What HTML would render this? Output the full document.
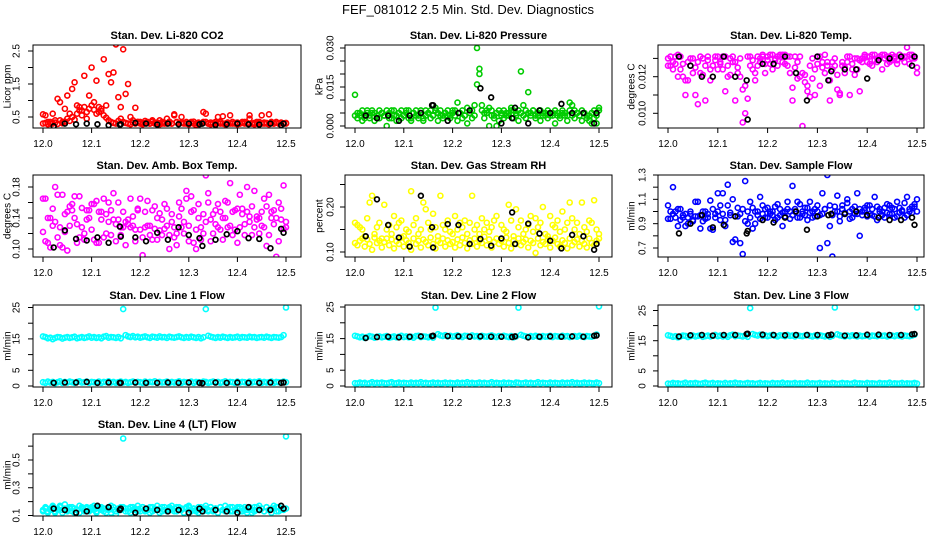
<!DOCTYPE html>
<html><head><meta charset="utf-8"><style>
html,body{margin:0;padding:0;background:#fff;}
svg{display:block;font-family:"Liberation Sans",Arial,sans-serif;}
</style></head><body>
<svg id="chart" width="936" height="540" viewBox="0 0 936 540">
<text x="468" y="14" text-anchor="middle" font-size="13">FEF_081012  2.5 Min. Std. Dev. Diagnostics</text>
</svg>
<script>
const times=[12.000,12.005,12.010,12.015,12.020,12.025,12.030,12.035,12.040,12.045,12.050,12.055,12.060,12.065,12.070,12.075,12.080,12.085,12.090,12.095,12.100,12.105,12.110,12.115,12.120,12.125,12.130,12.135,12.140,12.145,12.150,12.155,12.160,12.165,12.170,12.175,12.180,12.185,12.190,12.195,12.200,12.205,12.210,12.215,12.220,12.225,12.230,12.235,12.240,12.245,12.250,12.255,12.260,12.265,12.270,12.275,12.280,12.285,12.290,12.295,12.300,12.305,12.310,12.315,12.320,12.325,12.330,12.335,12.340,12.345,12.350,12.355,12.360,12.365,12.370,12.375,12.380,12.385,12.390,12.395,12.400,12.405,12.410,12.415,12.420,12.425,12.430,12.435,12.440,12.445,12.450,12.455,12.460,12.465,12.470,12.475,12.480,12.485,12.490,12.495,12.500];
const blackTimes=[12.022,12.045,12.068,12.090,12.112,12.135,12.158,12.160,12.190,12.212,12.235,12.257,12.279,12.300,12.322,12.328,12.355,12.378,12.400,12.423,12.445,12.468,12.490,12.495];
const xTicks=[12.0,12.1,12.2,12.3,12.4,12.5];
const xTickLabels=["12.0","12.1","12.2","12.3","12.4","12.5"];

const co2A=[0.30,0.32,0.28,0.35,0.30,0.33,0.29,0.40,0.31,0.36,0.45,0.38,0.50,0.42,0.60,0.70,0.55,0.80,0.65,0.75,0.85,0.72,0.60,0.80,0.68,0.55,0.48,0.40,0.35,0.32,0.30,0.38,0.45,0.35,0.32,0.30,0.28,0.33,0.30,0.35,0.30,0.28,0.32,0.35,0.30,0.40,0.33,0.30,0.28,0.35,0.30,0.45,0.32,0.30,0.55,0.35,0.30,0.50,0.32,0.30,0.28,0.35,0.30,0.25,0.33,0.30,0.65,0.35,0.30,0.28,0.32,0.30,0.50,0.35,0.30,0.28,0.33,0.55,0.30,0.32,0.28,0.30,0.35,0.30,0.32,0.45,0.30,0.28,0.35,0.30,0.55,0.30,0.32,0.28,0.35,0.30,0.33,0.30,0.32,0.30,0.30];
const co2B=[0.58,0.55,0.35,0.30,0.60,0.40,1.05,0.95,0.35,0.75,1.15,0.60,1.35,1.55,0.85,0.80,0.70,1.75,0.45,1.15,2.00,0.95,1.60,0.65,0.75,2.25,0.85,1.80,1.55,1.85,2.70,1.10,0.80,2.55,1.20,1.50,0.50,0.40,0.78,0.35,0.35,0.30,0.38,0.32,0.30,0.36,0.30,0.33,0.40,0.30,0.32,0.30,0.36,0.30,0.58,0.34,0.30,0.32,0.30,0.35,0.30,0.33,0.36,0.30,0.32,0.30,0.35,0.60,0.30,0.33,0.30,0.35,0.32,0.30,0.52,0.30,0.33,0.30,0.35,0.30,0.33,0.30,0.32,0.35,0.30,0.55,0.30,0.32,0.30,0.35,0.30,0.33,0.30,0.58,0.32,0.30,0.35,0.30,0.33,0.30,0.32];
const co2K=[0.22,0.30,0.28,0.30,0.28,0.25,0.27,0.28,0.32,0.30,0.27,0.30,0.28,0.30,0.28,0.30,0.26,0.28,0.30,0.28,0.27,0.30,0.25,0.30];
const co2Ticks=[0.5,1.0,1.5,2.0,2.5];
const co2TickLabels=["0.5","","1.5","","2.5"];

const presA=[0.004,0.003,0.005,0.002,0.004,0.006,0.003,0.005,0.002,0.004,0.003,0.005,0.004,0.000,0.003,0.006,0.004,0.002,0.005,0.003,0.004,0.006,0.003,0.002,0.005,0.004,0.003,0.006,0.002,0.004,0.005,0.003,0.004,0.006,0.002,0.004,0.003,0.005,0.004,0.003,0.006,0.004,0.002,0.005,0.003,0.004,0.001,0.005,0.003,0.004,0.016,0.020,0.006,0.003,0.005,0.000,0.004,0.003,0.005,0.002,0.004,0.003,0.005,0.004,0.006,0.003,0.004,0.002,0.005,0.004,0.003,0.005,0.004,0.006,0.003,0.004,0.002,0.005,0.004,0.003,0.005,0.004,0.001,0.004,0.003,0.005,0.004,0.002,0.006,0.004,0.003,0.005,0.004,0.002,0.005,0.003,0.004,0.001,0.003,0.001,0.006];
const presB=[0.012,0.005,0.004,0.006,0.003,0.005,0.004,0.006,0.005,0.003,0.006,0.005,0.004,0.006,0.005,0.003,0.006,0.004,0.005,0.006,0.004,0.005,0.006,0.003,0.005,0.006,0.004,0.005,0.003,0.006,0.005,0.006,0.004,0.007,0.005,0.006,0.004,0.005,0.006,0.004,0.005,0.006,0.009,0.005,0.006,0.004,0.007,0.005,0.006,0.008,0.030,0.022,0.008,0.005,0.006,0.007,0.006,0.004,0.000,0.006,0.005,0.006,0.004,0.005,0.007,0.006,0.005,0.006,0.021,0.008,0.006,0.013,0.005,0.006,0.004,0.005,0.006,0.004,0.005,0.006,0.004,0.005,0.006,0.005,0.004,0.006,0.005,0.004,0.009,0.008,0.006,0.005,0.004,0.006,0.005,0.004,0.002,0.005,0.006,0.004,0.007];
const presK=[0.004,0.003,0.004,0.002,0.004,0.005,0.008,0.008,0.002,0.005,0.006,0.0145,0.011,0.001,0.003,0.007,0.001,0.006,0.005,0.0085,0.005,0.005,0.001,0.005];
const presTicks=[0.000,0.005,0.010,0.015,0.020,0.025,0.030];
const presTickLabels=["0.000","","","0.015","","","0.030"];

const tempA=[0.0130,0.0126,0.0128,0.0131,0.0132,0.0124,0.0120,0.0118,0.0128,0.0130,0.0122,0.0110,0.0128,0.0131,0.0121,0.0107,0.0129,0.0118,0.0126,0.0131,0.0124,0.0128,0.0131,0.0112,0.0126,0.0121,0.0131,0.0128,0.0122,0.0130,0.0113,0.0100,0.0108,0.0131,0.0124,0.0118,0.0126,0.0128,0.0131,0.0122,0.0129,0.0132,0.0124,0.0130,0.0131,0.0132,0.0128,0.0132,0.0131,0.0122,0.0114,0.0131,0.0128,0.0120,0.0122,0.0117,0.0112,0.0109,0.0119,0.0110,0.0131,0.0115,0.0128,0.0132,0.0126,0.0118,0.0128,0.0130,0.0113,0.0111,0.0126,0.0122,0.0128,0.0131,0.0124,0.0121,0.0130,0.0112,0.0128,0.0131,0.0128,0.0131,0.0126,0.0132,0.0130,0.0131,0.0124,0.0132,0.0131,0.0128,0.0132,0.0131,0.0129,0.0132,0.0130,0.0131,0.0136,0.0132,0.0130,0.0131,0.0122];
const tempB=[0.0126,0.0131,0.0124,0.0127,0.0120,0.0131,0.0127,0.0110,0.0118,0.0126,0.0130,0.0125,0.0105,0.0122,0.0130,0.0126,0.0131,0.0124,0.0126,0.0129,0.0131,0.0127,0.0124,0.0131,0.0120,0.0130,0.0128,0.0107,0.0125,0.0120,0.0095,0.0115,0.0131,0.0126,0.0129,0.0122,0.0131,0.0130,0.0132,0.0127,0.0131,0.0127,0.0132,0.0129,0.0126,0.0131,0.0132,0.0127,0.0126,0.0131,0.0107,0.0125,0.0119,0.0131,0.0093,0.0121,0.0115,0.0126,0.0130,0.0124,0.0127,0.0131,0.0125,0.0122,0.0128,0.0107,0.0124,0.0126,0.0121,0.0110,0.0128,0.0125,0.0131,0.0110,0.0127,0.0130,0.0124,0.0129,0.0130,0.0132,0.0131,0.0127,0.0132,0.0129,0.0128,0.0131,0.0132,0.0130,0.0127,0.0131,0.0129,0.0130,0.0127,0.0132,0.0131,0.0128,0.0131,0.0127,0.0132,0.0130,0.0125];
const tempK=[0.0131,0.0126,0.0120,0.0120,0.0131,0.0120,0.0118,0.00966,0.0127,0.0127,0.0131,0.0122,0.0107,0.0131,0.0118,0.0123,0.0124,0.0124,0.0119,0.0129,0.0130,0.0131,0.0126,0.0131];
const tempTicks=[0.010,0.011,0.012,0.013];
const tempTickLabels=["0.010","","0.012",""];

const ambA=[0.122,0.165,0.108,0.140,0.130,0.180,0.115,0.105,0.170,0.145,0.098,0.155,0.150,0.168,0.132,0.115,0.153,0.120,0.138,0.150,0.158,0.112,0.162,0.108,0.148,0.165,0.120,0.135,0.150,0.172,0.132,0.160,0.118,0.128,0.105,0.138,0.165,0.130,0.110,0.150,0.125,0.092,0.148,0.162,0.130,0.112,0.155,0.140,0.124,0.118,0.158,0.130,0.100,0.145,0.115,0.120,0.160,0.128,0.135,0.175,0.110,0.168,0.150,0.100,0.140,0.128,0.120,0.195,0.172,0.110,0.145,0.132,0.158,0.125,0.140,0.162,0.128,0.185,0.118,0.150,0.108,0.170,0.152,0.132,0.180,0.142,0.118,0.175,0.138,0.140,0.130,0.165,0.104,0.170,0.140,0.150,0.090,0.160,0.138,0.182,0.128];
const ambB=[0.165,0.110,0.140,0.102,0.152,0.135,0.170,0.128,0.102,0.122,0.148,0.130,0.158,0.140,0.108,0.168,0.128,0.112,0.150,0.140,0.125,0.158,0.108,0.148,0.138,0.115,0.145,0.160,0.118,0.138,0.110,0.138,0.128,0.148,0.135,0.132,0.128,0.142,0.125,0.152,0.165,0.115,0.128,0.130,0.118,0.150,0.126,0.112,0.146,0.138,0.126,0.152,0.118,0.135,0.128,0.105,0.142,0.152,0.120,0.165,0.130,0.148,0.108,0.125,0.158,0.112,0.145,0.135,0.160,0.138,0.120,0.150,0.128,0.148,0.112,0.140,0.160,0.130,0.148,0.125,0.152,0.128,0.145,0.118,0.148,0.135,0.155,0.128,0.142,0.120,0.148,0.128,0.155,0.118,0.148,0.132,0.140,0.110,0.152,0.126,0.135];
const ambK=[0.102,0.124,0.113,0.111,0.115,0.108,0.129,0.116,0.115,0.110,0.121,0.112,0.128,0.118,0.114,0.104,0.112,0.119,0.123,0.114,0.113,0.101,0.126,0.121];
const ambTicks=[0.10,0.12,0.14,0.16,0.18];
const ambTickLabels=["0.10","","0.14","","0.18"];

const rhA=[0.120,0.115,0.125,0.130,0.112,0.128,0.118,0.105,0.132,0.120,0.125,0.110,0.122,0.130,0.115,0.128,0.108,0.124,0.118,0.132,0.112,0.126,0.120,0.105,0.130,0.118,0.125,0.110,0.128,0.122,0.115,0.132,0.118,0.108,0.125,0.120,0.130,0.112,0.126,0.118,0.122,0.110,0.128,0.115,0.132,0.120,0.108,0.126,0.118,0.130,0.112,0.125,0.120,0.134,0.115,0.128,0.110,0.122,0.130,0.118,0.125,0.112,0.132,0.120,0.108,0.126,0.118,0.130,0.115,0.122,0.128,0.110,0.125,0.120,0.098,0.130,0.115,0.122,0.118,0.128,0.110,0.125,0.132,0.118,0.112,0.126,0.120,0.108,0.130,0.115,0.122,0.128,0.112,0.125,0.118,0.110,0.130,0.120,0.115,0.125,0.130];
const rhB=[0.165,0.160,0.155,0.150,0.135,0.175,0.210,0.225,0.140,0.155,0.165,0.130,0.205,0.150,0.160,0.140,0.180,0.155,0.165,0.170,0.135,0.150,0.145,0.235,0.160,0.175,0.140,0.150,0.210,0.195,0.165,0.150,0.185,0.155,0.135,0.225,0.160,0.150,0.170,0.145,0.140,0.180,0.150,0.165,0.155,0.170,0.140,0.165,0.225,0.150,0.160,0.140,0.175,0.150,0.165,0.145,0.155,0.170,0.180,0.285,0.160,0.150,0.145,0.205,0.170,0.135,0.195,0.155,0.170,0.140,0.150,0.160,0.180,0.145,0.175,0.155,0.165,0.200,0.140,0.135,0.180,0.160,0.155,0.170,0.145,0.190,0.150,0.165,0.210,0.175,0.150,0.165,0.140,0.210,0.155,0.145,0.170,0.165,0.215,0.150,0.140];
const rhK=[0.135,0.217,0.160,0.132,0.112,0.225,0.155,0.110,0.162,0.160,0.118,0.129,0.114,0.130,0.188,0.118,0.163,0.141,0.125,0.108,0.138,0.135,0.105,0.118];
const rhTicks=[0.10,0.15,0.20,0.25];
const rhTickLabels=["0.10","","0.20",""];

const sfA=[1.05,0.94,1.20,1.00,0.88,1.02,0.95,0.98,0.90,1.00,0.93,0.96,1.08,0.97,0.92,1.00,0.95,1.09,0.85,0.98,1.00,0.93,1.15,0.88,1.05,0.97,1.10,0.77,0.96,0.74,1.02,1.25,0.90,1.08,0.86,1.00,0.97,1.12,1.05,0.95,1.03,0.98,1.00,0.93,1.06,0.97,0.88,1.00,1.02,0.94,1.21,1.00,0.95,1.06,0.98,1.03,0.93,1.08,1.00,0.96,1.05,0.70,0.98,1.02,1.30,0.88,0.97,1.04,1.00,0.92,1.05,0.99,1.10,0.94,1.02,0.98,1.15,0.80,1.00,1.03,0.96,1.05,0.97,1.12,0.93,1.02,1.00,0.95,1.06,0.98,1.03,0.95,1.08,0.99,1.01,0.95,1.12,1.00,1.04,1.06,1.10];
const sfB=[0.94,1.00,0.98,0.95,1.02,0.93,0.97,0.88,0.95,0.98,0.92,1.08,0.96,0.86,1.00,0.94,0.98,0.86,1.02,0.95,1.15,1.05,0.98,0.93,1.22,0.99,0.75,0.96,1.03,0.98,0.65,0.92,1.00,0.95,1.03,0.90,1.00,0.94,0.98,1.02,0.95,1.00,0.97,1.04,0.95,1.02,0.99,0.96,1.08,1.00,0.97,1.02,1.08,0.95,1.00,0.97,1.03,0.99,0.95,1.02,1.00,0.97,1.15,1.02,0.74,1.05,0.63,1.00,1.13,0.96,1.02,0.98,1.07,1.00,0.95,1.04,0.98,1.02,0.97,1.01,1.05,0.98,1.02,0.96,1.04,1.00,0.97,1.03,0.99,1.05,0.98,1.02,0.96,1.03,1.00,1.07,0.97,1.02,0.99,1.04,1.00];
const sfK=[0.82,0.90,0.97,0.87,0.89,0.96,0.82,0.84,0.93,0.91,0.95,1.00,0.85,0.96,0.97,0.98,0.98,1.00,0.97,0.95,0.93,0.93,0.95,0.89];
const sfTicks=[0.7,0.8,0.9,1.0,1.1,1.2,1.3];
const sfTickLabels=["0.7","","0.9","","1.1","","1.3"];

const l1A=[15.8,15.6,15.2,15.4,14.9,15.3,15.6,15.5,15.1,15.4,15.6,15.3,15.5,15.7,15.2,15.4,15.6,15.3,15.5,15.8,15.4,15.6,15.3,15.5,15.2,15.7,15.9,15.4,15.6,15.5,15.3,15.6,15.2,24.5,16.2,15.8,15.6,15.9,15.5,15.7,15.4,15.6,15.8,15.5,15.3,15.7,15.6,15.4,15.8,15.5,15.6,15.3,15.7,15.5,15.4,15.6,15.8,15.5,15.3,15.6,15.4,15.7,15.5,15.3,15.6,15.2,15.5,24.5,16.0,15.7,15.5,15.3,15.6,15.4,15.7,15.5,15.3,15.6,15.4,15.5,15.7,15.3,15.6,15.5,15.4,15.7,15.5,15.6,15.3,15.5,15.6,15.4,15.7,15.5,15.3,15.6,15.5,15.4,15.6,16.2,25.0];
const l1B=[1.2,1.0,1.4,1.1,1.3,0.9,1.2,1.5,1.0,1.3,1.1,1.4,1.2,1.0,1.3,1.5,1.1,1.2,1.4,1.0,1.3,1.2,1.1,1.4,1.0,1.3,1.2,1.5,1.1,1.3,1.0,1.2,1.4,1.1,1.3,1.0,1.2,1.4,1.1,1.3,1.2,1.0,1.4,1.1,1.3,1.2,1.5,1.0,1.3,1.1,1.2,1.4,1.0,1.3,1.1,1.2,1.5,1.0,1.3,1.2,1.1,1.4,1.0,1.3,1.2,1.1,1.4,1.3,1.0,1.2,1.4,1.1,1.3,1.0,1.2,1.5,1.1,1.3,1.2,1.0,1.4,1.1,1.3,1.2,1.0,1.4,1.1,1.3,1.2,1.5,1.0,1.3,1.1,1.2,1.4,1.0,1.3,1.2,1.1,1.4,1.2];
const l1K=[1.0,1.1,1.1,1.3,1.0,1.1,1.0,1.0,1.1,1.0,1.0,1.1,1.0,1.1,1.0,0.9,1.1,1.0,1.1,1.0,1.0,1.1,1.0,1.1];

const l2A=[15.9,15.7,15.4,15.6,15.2,15.5,15.8,15.6,15.3,15.6,15.7,15.4,15.6,15.8,15.3,15.5,15.7,15.4,15.6,15.9,15.5,15.7,15.4,15.6,15.3,15.8,15.9,15.5,15.7,15.6,15.4,15.7,15.3,24.8,16.4,16.0,15.8,16.1,15.7,15.9,15.6,15.8,16.0,15.7,15.5,15.9,15.8,15.6,16.0,15.7,15.8,15.5,15.9,15.7,15.6,15.8,16.0,15.7,15.5,15.8,15.6,15.9,15.7,15.5,15.8,15.4,15.7,24.8,16.2,15.9,15.7,15.5,15.8,15.6,15.9,15.7,15.5,15.8,15.6,15.7,15.9,15.5,15.8,15.7,15.6,15.9,15.7,15.8,15.5,15.7,15.8,15.6,15.9,15.7,15.5,15.8,15.7,15.6,15.8,16.3,25.2];
const l2B=[0.9,0.8,1.1,0.8,1.0,0.7,0.9,1.2,0.8,1.0,0.9,1.1,0.9,0.8,1.0,1.2,0.8,0.9,1.1,0.8,1.0,0.9,0.8,1.1,0.8,1.0,0.9,1.2,0.8,1.0,0.8,0.9,1.1,0.8,1.0,0.8,0.9,1.1,0.8,1.0,0.9,0.8,1.1,0.8,1.0,0.9,1.2,0.8,1.0,0.8,0.9,1.1,0.8,1.0,0.8,0.9,1.2,0.8,1.0,0.9,0.8,1.1,0.8,1.0,0.9,0.6,1.1,1.0,0.8,0.9,1.1,0.8,1.0,0.8,0.9,1.2,0.8,1.0,0.9,0.8,1.1,0.8,1.0,0.9,0.8,1.1,0.8,1.0,0.9,1.2,0.8,1.0,0.8,0.9,1.1,0.8,1.0,0.9,0.8,1.1,0.9];
const l2K=[15.2,15.5,15.6,15.4,15.6,15.7,15.8,15.9,15.8,15.7,15.6,15.7,15.6,15.6,15.5,15.7,15.4,15.6,15.7,15.6,15.7,15.6,15.9,16.0];

const l3A=[16.8,16.6,16.3,16.5,16.1,16.4,16.7,16.6,16.2,16.5,16.7,16.4,16.6,16.8,16.3,16.5,16.7,16.4,16.6,16.9,16.5,16.7,16.4,16.6,16.3,16.8,17.0,16.5,16.7,16.6,16.4,16.7,16.3,25.8,17.2,16.9,16.7,17.0,16.6,16.8,16.5,16.7,16.9,16.6,16.4,16.8,16.7,16.5,16.9,16.6,16.7,16.4,16.8,16.6,16.5,16.7,16.9,16.6,16.4,16.7,16.5,16.8,16.6,16.4,16.7,16.3,16.6,26.0,17.1,16.8,16.6,16.4,16.7,16.5,16.8,16.6,16.4,16.7,16.5,16.6,16.8,16.4,16.7,16.6,16.5,16.8,16.6,16.7,16.4,16.6,16.7,16.5,16.8,16.6,16.4,16.7,16.6,16.5,16.7,17.0,26.0];
const l3B=[0.8,0.7,1.0,0.8,0.9,0.7,0.8,1.1,0.7,0.9,0.8,1.0,0.8,0.7,0.9,1.1,0.8,0.8,1.0,0.7,0.9,0.8,0.7,1.0,0.7,0.9,0.8,1.1,0.8,0.9,0.7,0.8,1.0,0.8,0.9,0.7,0.8,1.0,0.7,0.9,0.8,0.7,1.0,0.8,0.9,0.8,1.1,0.7,0.9,0.8,0.8,1.0,0.7,0.9,0.8,0.8,1.1,0.7,0.9,0.8,0.8,1.0,0.7,0.9,0.8,0.7,1.0,0.9,0.7,0.8,1.0,0.8,0.9,0.7,0.8,1.1,0.8,0.9,0.8,0.7,1.0,0.8,0.9,0.8,0.7,1.0,0.8,0.9,0.8,1.1,0.7,0.9,0.8,0.8,1.0,0.7,0.9,0.8,0.8,1.0,0.8];
const l3K=[16.4,16.8,16.9,16.7,16.9,16.9,17.2,17.3,17.0,16.9,16.8,16.9,16.9,16.9,16.8,17.0,16.7,16.8,17.0,17.0,16.9,16.9,17.1,17.2];
const flowTicks=[0,5,10,15,20,25];
const flowTickLabels=["0","5","","15","","25"];

const l4A=[0.14,0.16,0.13,0.15,0.17,0.12,0.15,0.16,0.14,0.18,0.13,0.15,0.16,0.12,0.14,0.17,0.15,0.13,0.16,0.14,0.15,0.17,0.13,0.16,0.14,0.15,0.12,0.16,0.17,0.14,0.11,0.15,0.16,0.655,0.15,0.13,0.16,0.14,0.15,0.17,0.13,0.16,0.14,0.15,0.12,0.16,0.14,0.17,0.15,0.13,0.16,0.14,0.15,0.17,0.13,0.16,0.14,0.15,0.12,0.16,0.17,0.14,0.15,0.13,0.16,0.14,0.15,0.17,0.13,0.16,0.14,0.15,0.12,0.16,0.14,0.17,0.15,0.13,0.16,0.14,0.15,0.16,0.13,0.16,0.14,0.15,0.12,0.16,0.14,0.17,0.15,0.13,0.16,0.14,0.15,0.17,0.13,0.16,0.14,0.15,0.67];
const l4B=[0.13,0.15,0.12,0.14,0.16,0.13,0.14,0.17,0.12,0.15,0.14,0.16,0.13,0.15,0.14,0.12,0.16,0.14,0.15,0.13,0.16,0.14,0.12,0.15,0.16,0.13,0.15,0.14,0.12,0.16,0.13,0.15,0.14,0.16,0.13,0.15,0.12,0.16,0.14,0.13,0.15,0.16,0.13,0.14,0.16,0.13,0.15,0.14,0.12,0.16,0.14,0.13,0.16,0.14,0.15,0.13,0.16,0.14,0.12,0.15,0.16,0.13,0.15,0.14,0.12,0.16,0.13,0.15,0.14,0.16,0.13,0.15,0.12,0.16,0.14,0.13,0.15,0.16,0.13,0.14,0.16,0.13,0.15,0.14,0.12,0.16,0.14,0.13,0.16,0.14,0.15,0.13,0.16,0.14,0.12,0.15,0.16,0.13,0.15,0.14,0.15];
const l4K=[0.15,0.14,0.12,0.13,0.17,0.16,0.14,0.15,0.12,0.15,0.14,0.13,0.14,0.12,0.15,0.13,0.14,0.13,0.12,0.16,0.14,0.14,0.17,0.15];
const l4Ticks=[0.1,0.2,0.3,0.4,0.5,0.6];
const l4TickLabels=["0.1","","0.3","","0.5",""];

const svg=document.getElementById('chart');
const NS='http://www.w3.org/2000/svg';
function mk(tag,attrs,parent){const e=document.createElementNS(NS,tag);for(const k in attrs)e.setAttribute(k,attrs[k]);(parent||svg).appendChild(e);return e;}

const cols=[{l:33,r:301,x0:43,x1:286,yl:17,al:8},{l:345,r:612,x0:355,x1:599,yl:331,al:320},{l:658,r:924,x0:668,x1:917,yl:643,al:632}];
const rows=[{t:45,b:128},{t:175,b:257},{t:305,b:387},{t:434,b:516}];

const panels=[
 {key:'co2',title:'Stan. Dev. Li-820 CO2',ylab:'Licor ppm',c:0,r:0,v0:0.5,p0:117,v1:2.5,p1:51,color:'#ff0000',A:co2A,B:co2B,K:co2K,ticks:co2Ticks,tl:co2TickLabels},
 {key:'pressure',title:'Stan. Dev. Li-820 Pressure',ylab:'kPa',c:1,r:0,v0:0,p0:126,v1:0.03,p1:48,color:'#00cc00',A:presA,B:presB,K:presK,ticks:presTicks,tl:presTickLabels},
 {key:'temp',title:'Stan. Dev. Li-820 Temp.',ylab:'degrees C',c:2,r:0,v0:0.010,p0:113.3,v1:0.012,p1:76.7,color:'#ff00ff',A:tempA,B:tempB,K:tempK,ticks:tempTicks,tl:tempTickLabels},
 {key:'amb-box',title:'Stan. Dev. Amb. Box Temp.',ylab:'degrees C',c:0,r:1,v0:0.10,p0:249,v1:0.18,p1:187,color:'#ff00ff',A:ambA,B:ambB,K:ambK,ticks:ambTicks,tl:ambTickLabels},
 {key:'rh',title:'Stan. Dev. Gas Stream RH',ylab:'percent',c:1,r:1,v0:0.10,p0:252,v1:0.20,p1:207,color:'#ffff00',A:rhA,B:rhB,K:rhK,ticks:rhTicks,tl:rhTickLabels},
 {key:'sample-flow',title:'Stan. Dev. Sample Flow',ylab:'ml/min',c:2,r:1,v0:0.7,p0:248,v1:1.3,p1:175,color:'#0000ff',A:sfA,B:sfB,K:sfK,ticks:sfTicks,tl:sfTickLabels},
 {key:'line1',title:'Stan. Dev. Line 1 Flow',ylab:'ml/min',c:0,r:2,v0:0,p0:386,v1:25,p1:307.5,color:'#00ffff',A:l1A,B:l1B,K:l1K,ticks:flowTicks,tl:flowTickLabels},
 {key:'line2',title:'Stan. Dev. Line 2 Flow',ylab:'ml/min',c:1,r:2,v0:0,p0:386,v1:25,p1:307,color:'#00ffff',A:l2A,B:l2B,K:l2K,ticks:flowTicks,tl:flowTickLabels},
 {key:'line3',title:'Stan. Dev. Line 3 Flow',ylab:'ml/min',c:2,r:2,v0:0,p0:386,v1:25,p1:310.5,color:'#00ffff',A:l3A,B:l3B,K:l3K,ticks:flowTicks,tl:flowTickLabels},
 {key:'line4',title:'Stan. Dev. Line 4 (LT) Flow',ylab:'ml/min',c:0,r:3,v0:0.1,p0:515.5,v1:0.5,p1:460,color:'#00ffff',A:l4A,B:l4B,K:l4K,ticks:l4Ticks,tl:l4TickLabels}
];

panels.forEach(p=>{
 const C=cols[p.c],R=rows[p.r];
 const xs=v=>C.x0+(v-12.0)/0.5*(C.x1-C.x0);
 const ys=v=>p.p0+(v-p.v0)/(p.v1-p.v0)*(p.p1-p.p0);
 const g=mk('g',{});
 
 
 const t=mk('text',{x:(C.l+C.r)/2,y:R.t-6,'text-anchor':'middle','font-size':'11','font-weight':'bold'},g);
 t.textContent=p.title;
 
 
 const cy=(R.t+R.b)/2;
 const yl=mk('text',{x:C.al,y:cy,'text-anchor':'middle','font-size':'10',transform:`rotate(-90 ${C.al} ${cy})`,'dominant-baseline':'central'},g);
 yl.textContent=p.ylab;
 
 
 const clip=mk('clipPath',{id:'clip-'+p.key},g);
 mk('rect',{x:C.l,y:R.t,width:C.r-C.l,height:R.b-R.t},clip);
 const pts=mk('g',{'clip-path':`url(#clip-${p.key})`},g);
 [p.A,p.B].forEach((arr,si)=>{
  arr.forEach((v,i)=>{
   const c=mk('circle',{cx:xs(times[i]),cy:ys(v),r:2.5,fill:'none',stroke:p.color,'stroke-width':1.6},pts);
   
   
  });
 });
 p.K.forEach((v,i)=>{
  const c=mk('circle',{cx:xs(blackTimes[i]),cy:ys(v),r:2.4,fill:'none',stroke:'#000','stroke-width':1.7},pts);
  
  
 });
 const box=mk('rect',{x:C.l,y:R.t,width:C.r-C.l,height:R.b-R.t,fill:'none',stroke:'#000','stroke-width':1},g);
 
 
 xTicks.forEach((v,i)=>{
  const x=xs(v);
  mk('line',{x1:x,x2:x,y1:R.b,y2:R.b+5,stroke:'#000'},g);
  const tl=mk('text',{x:x,y:R.b+19,'text-anchor':'middle','font-size':'10'},g);
  tl.textContent=xTickLabels[i];
  
  
 });
 p.ticks.forEach((v,i)=>{
  const y=ys(v);
  mk('line',{x1:C.l-5,x2:C.l,y1:y,y2:y,stroke:'#000'},g);
  if(p.tl[i]){
   const tl=mk('text',{x:C.yl,y:y,'text-anchor':'middle','font-size':'10',transform:`rotate(-90 ${C.yl} ${y})`,'dominant-baseline':'central'},g);
   tl.textContent=p.tl[i];
   
   
  }
 });
});
</script>
</body></html>
